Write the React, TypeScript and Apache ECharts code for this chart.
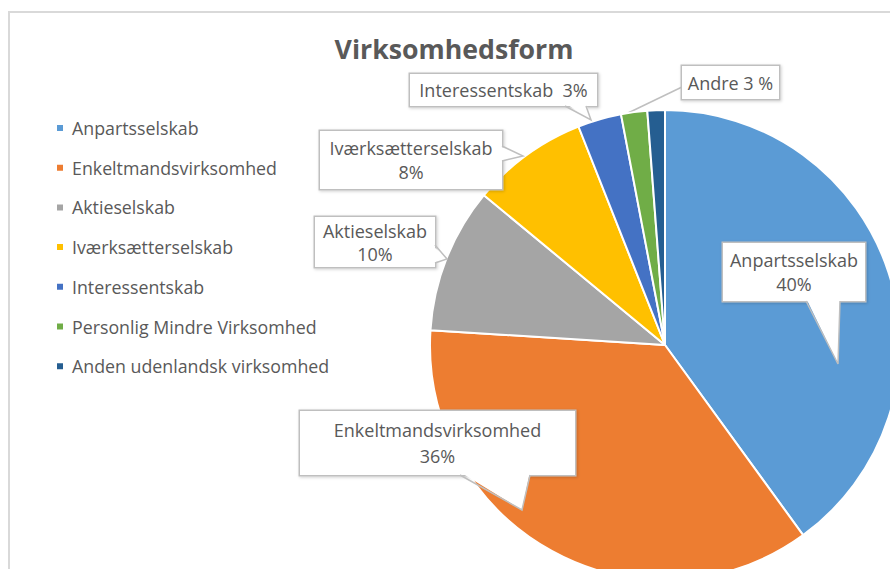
import React, { useEffect, useRef } from "react";
import * as echarts from "echarts";

const categories = [
  "Anpartsselskab",
  "Enkeltmandsvirksomhed",
  "Aktieselskab",
  "Iværksætterselskab",
  "Interessentskab",
  "Personlig Mindre Virksomhed",
  "Anden udenlandsk virksomhed",
];
const shares = [40, 36, 10, 8, 3, 1.8, 1.2];
const colors = ["#5B9BD5", "#ED7D31", "#A5A5A5", "#FFC000", "#4472C4", "#70AD47", "#255E91"];
const combinedLabel = "Andre";

const FONT = "'Open Sans', 'Noto Sans', sans-serif";
const TEXT = "#595959";
const BORDER = "#bfbfbf";

// label box layout: center, width, height, line height
const labelBoxes = [
  { cx: 794, cy: 272, w: 142, h: 58, lh: 24, lines: 2 },
  { cx: 437.5, cy: 443, w: 275, h: 64, lh: 26, lines: 2 },
  { cx: 375, cy: 242, w: 120, h: 50, lh: 23, lines: 2 },
  { cx: 411, cy: 160, w: 182, h: 58, lh: 24, lines: 2 },
  { cx: 503.5, cy: 90, w: 187, h: 32, lh: 22, lines: 1 },
  { cx: 730.5, cy: 82.5, w: 97, h: 33, lh: 22, lines: 1 },
];

// callout tails: base points on box edge, inward offset, tip
const tails = [
  { b1: [806, 301], b2: [840, 301], d: [0, -2], tip: [838, 364] },
  { b1: [460, 475], b2: [530, 475], d: [0, -2], tip: [522, 510] },
  { b1: [435, 245], b2: [435, 263], d: [-2, 0], tip: [447, 259] },
  { b1: [502, 146], b2: [502, 161], d: [-2, 0], tip: [523, 156] },
  { b1: [565, 106], b2: [586, 106], d: [0, -2], tip: [591, 120] },
];
const andreLine = [[628, 113], [655, 100], [682, 87]];

export default function App() {
  const ref = useRef<HTMLDivElement>(null);
  useEffect(() => {
    if (!ref.current) return;
    const chart = echarts.init(ref.current, null, { renderer: "svg" });
    const total = shares.reduce((a, b) => a + b, 0);
    const pct = (i: number) => Math.round((shares[i] / total) * 100);

    const data = categories.map((name, i) => {
      const box = labelBoxes[i];
      const item: any = {
        name,
        value: shares[i],
        itemStyle: { color: colors[i] },
      };
      if (box) {
        const pad = (box.h - box.lines * box.lh) / 2;
        item.label = {
          show: true,
          width: box.w,
          lineHeight: box.lh,
          padding: [pad, 0, pad, 0],
          align: "center",
        };
        if (i === 5) {
          item.labelLine = { show: true, lineStyle: { color: BORDER, width: 1.5 } };
        }
      } else {
        item.label = { show: false };
      }
      return item;
    });

    const graphics: any[] = [
      {
        type: "rect",
        shape: { x: 9, y: 12, width: 900, height: 600 },
        style: { fill: "none", stroke: "#d9d9d9", lineWidth: 2 },
        z: 0,
        silent: true,
      },
    ];
    tails.forEach((t) => {
      graphics.push({
        type: "polygon",
        shape: {
          points: [
            [t.b1[0] + t.d[0] * 1.5, t.b1[1] + t.d[1] * 1.5],
            [t.b2[0] + t.d[0] * 1.5, t.b2[1] + t.d[1] * 1.5],
            t.tip,
          ],
        },
        style: { fill: "#fff", stroke: "none" },
        z: 100,
        silent: true,
      });
      graphics.push({
        type: "polyline",
        shape: { points: [t.b1, t.tip, t.b2] },
        style: { stroke: BORDER, lineWidth: 1.5, fill: "none" },
        z: 101,
        silent: true,
      });
    });

    chart.setOption({
      animation: false,
      backgroundColor: "#fff",
      title: {
        text: "Virksomhedsform",
        left: 454,
        top: 35,
        padding: 0,
        textAlign: "center",
        textStyle: { fontFamily: FONT, fontSize: 26.7, fontWeight: "bold", color: TEXT },
      },
      legend: {
        orient: "vertical",
        left: 55,
        top: 118,
        padding: 0,
        itemWidth: 8,
        itemHeight: 8,
        itemGap: 19.7,
        icon: "rect",
        data: categories,
        textStyle: {
          fontFamily: FONT,
          fontSize: 17.8,
          color: TEXT,
          lineHeight: 20,
          padding: [0, 0, 0, 3],
        },
      },
      graphic: graphics,
      series: [
        {
          type: "pie",
          center: [665, 345],
          radius: 235,
          startAngle: 90,
          clockwise: true,
          avoidLabelOverlap: false,
          itemStyle: { borderColor: "#fff", borderWidth: 2 },
          emphasis: { disabled: true },
          label: {
            show: true,
            fontFamily: FONT,
            fontSize: 18,
            color: TEXT,
            backgroundColor: "#fff",
            borderColor: BORDER,
            borderWidth: 1.5,
            shadowColor: "rgba(0,0,0,0.18)",
            shadowBlur: 3,
            shadowOffsetX: 1,
            shadowOffsetY: 1,
            overflow: "none",
            formatter: (p: any) => {
              const i = p.dataIndex;
              if (i <= 3) return `${p.name}\n${pct(i)}%`;
              if (i === 4) return `${p.name}  ${pct(i)}%`;
              if (i === 5) return `${combinedLabel} ${Math.round(((shares[5] + shares[6]) / total) * 100)} %`;
              return "";
            },
          },
          labelLine: { show: false },
          labelLayout: (params: any) => {
            const i = params.dataIndex;
            const b = labelBoxes[i];
            if (!b) return {};
            const out: any = { x: b.cx, y: b.cy, align: "center", verticalAlign: "middle" };
            if (i === 5) out.labelLinePoints = andreLine;
            return out;
          },
          data,
        },
      ],
    });
    return () => chart.dispose();
  }, []);
  return (
    <div
      ref={ref}
      style={{ position: "fixed", left: 0, top: 0, width: 890, height: 569, background: "#fff" }}
    />
  );
}
